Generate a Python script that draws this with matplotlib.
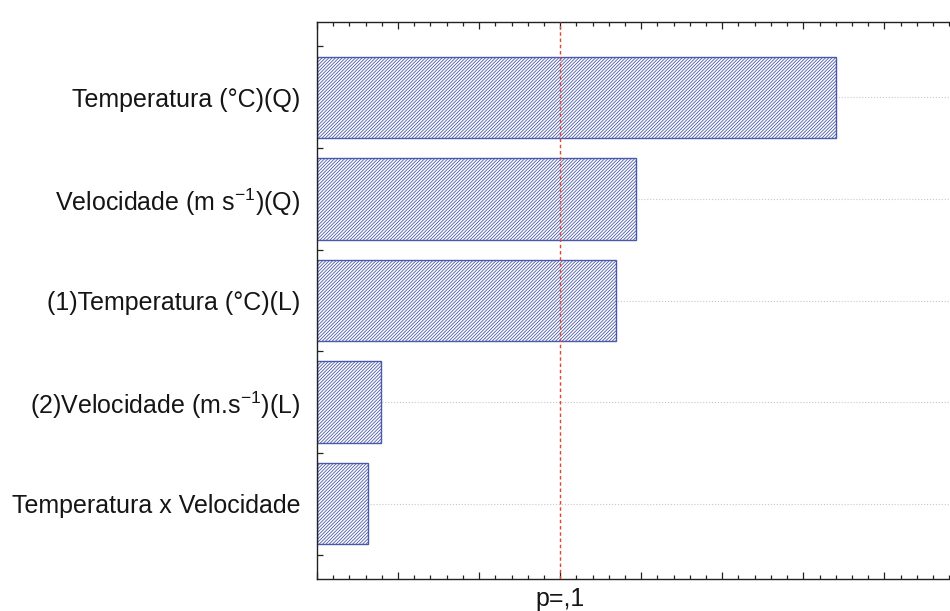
import numpy as np
import matplotlib
matplotlib.use('Agg')
from matplotlib import pyplot as plt
from matplotlib.ticker import MultipleLocator
import matplotlib.transforms as mtransforms

plt.rcParams['font.family'] = ['Liberation Sans', 'DejaVu Sans']
plt.rcParams['hatch.linewidth'] = 0.6
plt.rcParams['hatch.color'] = '#6673b5'

# standardized effects (Pareto chart), largest on top
factors = ['Temperatura (°C)(Q)',
           r'Velocidade (m s$^{\mathregular{-1}}$)(Q)',
           '(1)Temperatura (°C)(L)',
           r'(2)Velocidade (m.s$^{\mathregular{-1}}$)(L)',
           'Temperatura x Velocidade']
effects = [6.40, 3.94, 3.69, 0.79, 0.63]
p_limit = 3.0
p_label = 'p=,1'

fig = plt.figure(figsize=(9.50, 6.11), dpi=100)
ax = fig.add_axes([317 / 950, 32 / 611, 1 - 317 / 950, 557 / 611])

ypos = np.arange(len(factors))
ax.barh(ypos, effects, height=0.8, color='white', edgecolor='#4b5aa8',
        linewidth=1.0, hatch='//////////', zorder=2)

for y in ypos:
    ax.axhline(y, color='#c8c8c8', linestyle=':', linewidth=0.8, zorder=1)
ax.axvline(p_limit, color='#e0472a', linestyle=(0, (2.5, 2)), linewidth=1.0, zorder=4)

ax.set_xlim(0, 7.81)
ax.set_ylim(4.74, -0.74)
ax.set_yticks(ypos)
ax.set_yticklabels(factors, fontsize=18, color='#151515')
ax.yaxis.set_minor_locator(MultipleLocator(0.25))
ax.xaxis.set_major_locator(MultipleLocator(1))
ax.xaxis.set_minor_locator(MultipleLocator(0.2))
ax.tick_params(axis='x', which='both', direction='in', top=True, bottom=True,
               labelbottom=False, color='#222222', width=0.9)
ax.tick_params(axis='x', which='major', length=5)
ax.tick_params(axis='x', which='minor', length=3)
ax.tick_params(axis='y', which='both', direction='in', left=True, right=False,
               length=4, color='#222222', width=0.9, pad=12)
ax.spines['right'].set_visible(False)
for s in ['left', 'top', 'bottom']:
    ax.spines[s].set_color('#222222')
    ax.spines[s].set_linewidth(1.0)

trans = mtransforms.blended_transform_factory(ax.transData, fig.transFigure)
ax.text(p_limit, 1 - 599 / 611, p_label, transform=trans, ha='center', va='center',
        fontsize=18, color='#151515')

fig.savefig('out.png', dpi=100)
